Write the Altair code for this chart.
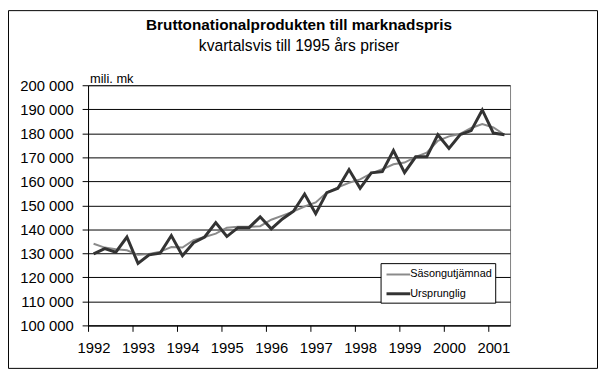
import altair as alt
import pandas as pd

# Quarterly GDP, million mk (1995 prices), 1992Q1 .. 2001Q2
years = list(range(1992, 2002))
quarters = [f"{y}Q{q}" for y in years for q in (1, 2, 3, 4)][:38]

sasong = [134000, 132400, 131700, 131300, 129400, 129700, 130700, 132600,
          132400, 135500, 136800, 138200, 140700, 141100, 141100, 141300,
          144000, 145700, 147500, 149500, 151200, 155300, 157500, 159400,
          160800, 163300, 165000, 167100, 167800, 170200, 171900, 176900,
          178700, 179700, 182200, 183800, 182400, 179400]

ursprunglig = [129800, 132000, 130500, 136800, 125800, 129400, 130100, 137400,
               129000, 134400, 136800, 142800, 137000, 140700, 140700, 145200,
               140200, 144300, 147500, 154700, 146500, 155300, 157100, 164900,
               157100, 163500, 164000, 172800, 163600, 170200, 170200, 179400,
               173700, 179400, 181100, 189700, 180100, 179400]

series_names = ["Säsongutjämnad", "Ursprunglig"]
series_colors = ["#8a8a8a", "#333333"]
series_widths = [2, 3]

y_ticks = list(range(100000, 200001, 10000))
x_ticks = list(range(0, 37, 4))

title_text = "Bruttonationalprodukten till marknadspris"
subtitle_text = "kvartalsvis till 1995 års priser"
unit_text = "mili. mk"

rows = []
for name, vals in zip(series_names, [sasong, ursprunglig]):
    for i, (q, v) in enumerate(zip(quarters, vals)):
        rows.append({"serie": name, "kvartal": q, "pos": i + 0.5, "value": v})
df = pd.DataFrame(rows)

FONT = "Liberation Sans"
W, H = 427, 243

lines = alt.Chart(df).mark_line(strokeJoin="miter").encode(
    x=alt.X("pos:Q",
            scale=alt.Scale(domain=[0, 38], nice=False),
            axis=alt.Axis(values=x_ticks, title=None, grid=False,
                          labelExpr="1992 + datum.value / 4",
                          labelOffset=5.6, tickSize=6, labelPadding=9,
                          labelFontSize=15, labelFlush=False)),
    y=alt.Y("value:Q",
            scale=alt.Scale(domain=[100000, 200000], nice=False, zero=False),
            axis=alt.Axis(values=y_ticks, title=None, grid=True,
                          gridColor="#000000", gridWidth=1,
                          labelExpr="replace(format(datum.value, ','), ',', ' ')",
                          tickSize=6, labelPadding=9, labelFontSize=15)),
    color=alt.Color("serie:N",
                    scale=alt.Scale(domain=series_names, range=series_colors),
                    legend=alt.Legend(title=None, orient="none",
                                      legendX=296, legendY=180,
                                      symbolType="M-1.6,0H1.6", symbolSize=225,
                                      symbolOffset=6,
                                      labelFontSize=11, labelFont=FONT,
                                      strokeColor="#000000", fillColor="#ffffff",
                                      padding=3, rowPadding=5, labelOffset=3)),
    strokeWidth=alt.StrokeWidth("serie:N",
                                scale=alt.Scale(domain=series_names, range=series_widths),
                                legend=None),
    detail="serie:N",
    order="pos:Q",
)

one = pd.DataFrame({"a": [0]})

frame = alt.Chart(one).mark_rect(fill=None, stroke="#000000", strokeWidth=1).encode(
    x=alt.value(-80.5), x2=alt.value(515.5), y=alt.value(-75.5), y2=alt.value(286.5)
)

title = alt.Chart(one).mark_text(font=FONT, fontSize=15.5, fontWeight="bold",
                                 align="center", baseline="alphabetic").encode(
    x=alt.value(W / 2), y=alt.value(-56), text=alt.value(title_text))

subtitle = alt.Chart(one).mark_text(font=FONT, fontSize=15.8,
                                    align="center", baseline="alphabetic").encode(
    x=alt.value(W / 2), y=alt.value(-35), text=alt.value(subtitle_text))

unit = alt.Chart(one).mark_text(font=FONT, fontSize=13,
                                align="left", baseline="alphabetic").encode(
    x=alt.value(2), y=alt.value(-2), text=alt.value(unit_text))

chart = alt.layer(frame, lines, title, subtitle, unit).properties(
    width=W, height=H,
    autosize=alt.AutoSizeParams(type="none"),
    padding={"left": 81, "top": 76, "right": 89, "bottom": 45},
).configure(
    font=FONT,
).configure_view(
    stroke="#808080", strokeWidth=1
).configure_axis(
    domainColor="#000000", tickColor="#000000", labelColor="#000000",
    labelFont=FONT, domainWidth=1, tickWidth=1,
)

chart.save("out.html", embed_options={"renderer": "svg", "actions": False})
